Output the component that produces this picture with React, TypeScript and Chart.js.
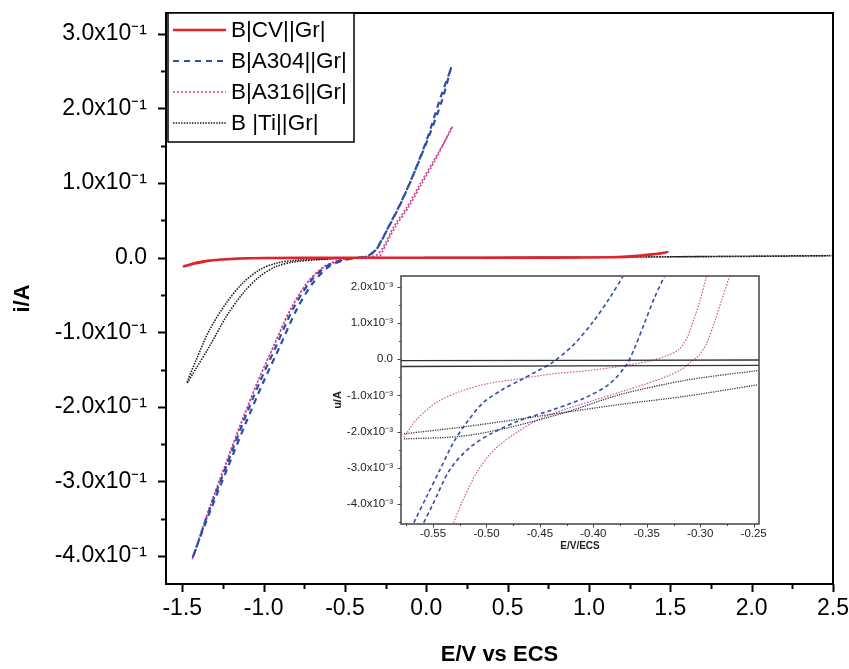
import React, { useEffect, useRef } from "react";
import { Chart, registerables } from "chart.js";
Chart.register(...registerables);

// ---------- main chart data (E in V vs ECS, i in A) ----------
const cvE = [-1.496, -1.414, -1.333, -1.23, -1.1, -0.8, -0.3, 0.3, 0.8, 1.146, 1.3, 1.4, 1.483, 1.4, 1.3, 1.15, 0.8, 0.2, -0.5, -1.0, -1.25, -1.4, -1.49];
const cvI = [-0.012, -0.0075, -0.004, -0.002, -0.0008, -0.0003, 0, 0, 0.0002, 0.0005, 0.0025, 0.0048, 0.0073, 0.0045, 0.002, 0.0006, 0, 0, -0.0002, -0.0006, -0.0025, -0.006, -0.0115];

const a304E = [-0.40, -0.373, -0.35, -0.312, -0.23, -0.148, -0.067, 0.015, 0.097, 0.154, 0.146, 0.088, 0.006, -0.075, -0.156, -0.238, -0.30, -0.345, -0.39, -0.45, -0.516, -0.618, -0.72, -0.822, -0.924, -1.026, -1.128, -1.23, -1.333, -1.436, -1.43, -1.325, -1.218, -1.11, -1.004, -0.90, -0.798, -0.697, -0.598, -0.50, -0.43, -0.40];
const a304I = [0, 0.001, 0.004, 0.010, 0.0416, 0.077, 0.1176, 0.162, 0.211, 0.256, 0.25, 0.215, 0.16, 0.114, 0.074, 0.039, 0.013, 0.004, 0.001, -0.001, -0.003, -0.012, -0.034, -0.070, -0.119, -0.168, -0.222, -0.28, -0.338, -0.403, -0.398, -0.338, -0.28, -0.222, -0.168, -0.119, -0.070, -0.034, -0.012, -0.003, -0.0005, 0];

const a316E = [-0.33, -0.29, -0.281, -0.189, -0.108, -0.026, 0.056, 0.158, 0.152, 0.048, -0.036, -0.118, -0.2, -0.27, -0.31, -0.37, -0.46, -0.53, -0.635, -0.74, -0.842, -0.942, -1.04, -1.14, -1.24, -1.338, -1.44, -1.432, -1.33, -1.23, -1.13, -1.03, -0.93, -0.83, -0.73, -0.63, -0.53, -0.45, -0.38, -0.33];
const a316I = [0.0005, 0.001, 0.0036, 0.0416, 0.068, 0.0997, 0.131, 0.1756, 0.171, 0.131, 0.0997, 0.068, 0.0416, 0.012, 0.003, 0.0005, -0.001, -0.004, -0.014, -0.036, -0.072, -0.12, -0.168, -0.222, -0.28, -0.338, -0.405, -0.40, -0.335, -0.276, -0.218, -0.163, -0.115, -0.068, -0.033, -0.012, -0.003, -0.001, 0, 0.0005];

const tiE = [2.5, 2.0, 1.5, 1.0, 0.5, 0, -0.5, -0.68, -0.82, -0.924, -1.026, -1.128, -1.23, -1.333, -1.414, -1.471, -1.414, -1.333, -1.23, -1.128, -1.026, -0.924, -0.82, -0.6, 0, 1.0, 2.0, 2.48];
const tiI = [0.0027, 0.002, 0.0012, 0.0006, 0.0002, 0, -0.001, -0.003, -0.006, -0.012, -0.0255, -0.048, -0.079, -0.119, -0.148, -0.168, -0.137, -0.097, -0.061, -0.034, -0.0165, -0.0075, -0.004, -0.0015, 0, 0.0005, 0.0018, 0.0025];

const seriesNames = ["B|CV||Gr|", "B|A304||Gr|", "B|A316||Gr|", "B |Ti||Gr|"];

const xTicks = [-1.5, -1.0, -0.5, 0, 0.5, 1.0, 1.5, 2.0, 2.5];
const xTickLabels = ["-1.5", "-1.0", "-0.5", "0.0", "0.5", "1.0", "1.5", "2.0", "2.5"];
const xMinor = [-1.25, -0.75, -0.25, 0.25, 0.75, 1.25, 1.75, 2.25];
const yTicks = [-0.4, -0.3, -0.2, -0.1, 0, 0.1, 0.2, 0.3];
const yTickLabels = ["-4.0x10\u207B\u00B9", "-3.0x10\u207B\u00B9", "-2.0x10\u207B\u00B9", "-1.0x10\u207B\u00B9", "0.0", "1.0x10\u207B\u00B9", "2.0x10\u207B\u00B9", "3.0x10\u207B\u00B9"];
const yMinor = [-0.35, -0.25, -0.15, -0.05, 0.05, 0.15, 0.25];

// ---------- inset data (E in V/ECS, i in 10^-3 A) ----------
const inBlue1E = [-0.568, -0.5556, -0.5432, -0.5308, -0.5184, -0.5028, -0.4842, -0.4687, -0.4532, -0.4392, -0.419, -0.4004, -0.385, -0.3725];
const inBlue1I = [-4.51, -3.77, -3.03, -2.29, -1.74, -1.19, -0.82, -0.585, -0.336, -0.105, 0.384, 1.03, 1.68, 2.28];
const inBlue2E = [-0.5587, -0.5509, -0.5339, -0.5153, -0.4935, -0.4687, -0.4377, -0.4067, -0.3849, -0.3694, -0.3617, -0.3524, -0.3431, -0.3337];
const inBlue2I = [-4.51, -4.05, -3.03, -2.43, -2.02, -1.69, -1.39, -1.05, -0.68, -0.17, 0.29, 0.98, 1.68, 2.28];
const inPink1E = [-0.5773, -0.5649, -0.5463, -0.5246, -0.4997, -0.4687, -0.4377, -0.4067, -0.3756, -0.3477, -0.3322, -0.3198, -0.312, -0.3058, -0.2996, -0.2943];
const inPink1I = [-2.155, -1.647, -1.186, -0.89, -0.678, -0.539, -0.40, -0.318, -0.198, -0.05, 0.089, 0.273, 0.615, 1.12, 1.68, 2.28];
const inPink2E = [-0.5308, -0.5215, -0.509, -0.4935, -0.4718, -0.4501, -0.4253, -0.4004, -0.3756, -0.3508, -0.3291, -0.3167, -0.3089, -0.3012, -0.2934, -0.2856, -0.2794, -0.2726];
const inPink2I = [-4.51, -3.86, -3.12, -2.52, -2.02, -1.65, -1.37, -1.14, -0.91, -0.68, -0.447, -0.262, -0.078, 0.107, 0.477, 1.12, 1.68, 2.28];
const inTi1E = [-0.5773, -0.5246, -0.4811, -0.4253, -0.3756, -0.3136, -0.2459];
const inTi1I = [-2.20, -2.13, -1.90, -1.46, -0.98, -0.58, -0.31];
const inTi2E = [-0.5773, -0.5246, -0.4687, -0.4253, -0.3756, -0.3136, -0.2459];
const inTi2I = [-2.06, -1.88, -1.65, -1.46, -1.25, -1.02, -0.705];
const inFlat1E = [-0.58, -0.245];
const inFlat1I = [-0.04, -0.02];
const inFlat2E = [-0.58, -0.245];
const inFlat2I = [-0.20, -0.17];

const inXTicks = [-0.55, -0.5, -0.45, -0.4, -0.35, -0.3, -0.25];
const inXTickLabels = ["-0.55", "-0.50", "-0.45", "-0.40", "-0.35", "-0.30", "-0.25"];
const inXMinor = [-0.575, -0.525, -0.475, -0.425, -0.375, -0.325, -0.275];
const inYTicks = [-4, -3, -2, -1, 0, 1, 2];
const inYTickLabels = ["-4.0x10\u207B\u00B3", "-3.0x10\u207B\u00B3", "-2.0x10\u207B\u00B3", "-1.0x10\u207B\u00B3", "0.0", "1.0x10\u207B\u00B3", "2.0x10\u207B\u00B3"];
const inYMinor = [-4.5, -3.5, -2.5, -1.5, -0.5, 0.5, 1.5];

const FONT = "'Liberation Sans', Arial, Helvetica, sans-serif";
const RED = "#e3232b";
const BLUE = "#2f4ea6";
const PINK = "#cc3e92";
const BLACK = "#1e1e1e";

const pts = (xs: number[], ys: number[]) => xs.map((x, i) => ({ x, y: ys[i] }));

const noPad = (s: any) => { s.paddingTop = 0; s.paddingBottom = 0; s.paddingLeft = 0; s.paddingRight = 0; };

const frameTicks = {
  id: "frameTicks",
  beforeDraw(chart: any, _a: any, o: any) {
    if (!o.fill) return;
    const { ctx, chartArea: a } = chart;
    ctx.save();
    ctx.fillStyle = "#fff";
    ctx.fillRect(a.left, a.top, a.right - a.left, a.bottom - a.top);
    ctx.restore();
  },
  afterDraw(chart: any, _a: any, o: any) {
    const { ctx, chartArea: a, scales } = chart;
    const x = scales.x, y = scales.y;
    ctx.save();
    ctx.strokeStyle = o.color;
    ctx.lineWidth = o.tickWidth;
    ctx.beginPath();
    const xt = (vals: number[], len: number) => vals.forEach((v) => {
      const p = Math.round(x.getPixelForValue(v)) + 0.5;
      ctx.moveTo(p, a.bottom); ctx.lineTo(p, a.bottom + len);
    });
    const yt = (vals: number[], len: number) => vals.forEach((v) => {
      const p = Math.round(y.getPixelForValue(v)) + 0.5;
      ctx.moveTo(a.left, p); ctx.lineTo(a.left - len, p);
    });
    xt(o.xMajor, o.major); xt(o.xMinor, o.minor);
    yt(o.yMajor, o.major); yt(o.yMinor, o.minor);
    ctx.stroke();
    ctx.lineWidth = o.frameWidth;
    ctx.strokeRect(a.left, a.top, a.right - a.left, a.bottom - a.top);
    ctx.restore();
  },
};

const boxLegend = {
  id: "boxLegend",
  afterDraw(chart: any) {
    const { ctx, chartArea: a } = chart;
    const left = a.left + 2, top = a.top, w = 186, h = 129;
    ctx.save();
    ctx.fillStyle = "#fff";
    ctx.fillRect(left, top, w, h);
    ctx.strokeStyle = "#000";
    ctx.lineWidth = 1.5;
    ctx.strokeRect(left, top, w, h);
    ctx.font = `22.5px ${FONT}`;
    ctx.textBaseline = "middle";
    chart.data.datasets.forEach((ds: any, i: number) => {
      const cy = top + 17 + i * 31;
      ctx.strokeStyle = ds.borderColor;
      ctx.lineWidth = ds.borderWidth;
      ctx.setLineDash(ds.borderDash || []);
      ctx.beginPath();
      ctx.moveTo(left + 5, cy); ctx.lineTo(left + 58, cy);
      ctx.stroke();
      ctx.setLineDash([]);
      ctx.fillStyle = "#000";
      ctx.fillText(ds.label, left + 63, cy + 1);
    });
    ctx.restore();
  },
};

export default function App() {
  const mainRef = useRef<HTMLCanvasElement>(null);
  const insetRef = useRef<HTMLCanvasElement>(null);

  useEffect(() => {
    const mk = (label: string, xs: number[], ys: number[], color: string, width: number, dash: number[]) => ({
      label, data: pts(xs, ys), borderColor: color, backgroundColor: color, borderWidth: width,
      borderDash: dash, showLine: true, pointRadius: 0, fill: false, tension: 0.3,
    });
    const main = new Chart(mainRef.current!, {
      type: "scatter",
      data: {
        datasets: [
          mk(seriesNames[0], cvE, cvI, RED, 2.5, []),
          mk(seriesNames[1], a304E, a304I, BLUE, 2.2, [6, 5]),
          mk(seriesNames[2], a316E, a316I, PINK, 1.6, [2, 2]),
          mk(seriesNames[3], tiE, tiI, BLACK, 1.6, [1.5, 1.2]),
        ] as any,
      },
      options: {
        animation: false,
        responsive: false,
        layout: { padding: { top: 13, right: 16, left: 0, bottom: 0 } },
        plugins: {
          legend: { display: false },
          tooltip: { enabled: false },
          frameTicks: { color: "#000", tickWidth: 2, frameWidth: 2, major: 8, minor: 5, xMajor: xTicks, xMinor, yMajor: yTicks, yMinor, fill: false },
        } as any,
        scales: {
          x: {
            type: "linear", min: -1.6, max: 2.5,
            afterBuildTicks: (s: any) => { s.ticks = xTicks.map((v) => ({ value: v })); },
            afterFit: (s: any) => { s.height = 85; noPad(s); },
            grid: { display: false, drawTicks: true, tickLength: 8 },
            border: { display: false },
            ticks: { callback: (_v: any, i: number) => xTickLabels[i], color: "#000", font: { family: FONT, size: 23 }, padding: 3, maxRotation: 0, autoSkip: false },
            title: { display: true, text: "E/V vs ECS", color: "#000", font: { family: FONT, size: 22, weight: "bold" }, padding: { top: 0, bottom: 1 } },
          },
          y: {
            type: "linear", min: -0.4375, max: 0.328,
            afterBuildTicks: (s: any) => { s.ticks = yTicks.map((v) => ({ value: v })); },
            afterFit: (s: any) => { s.width = 166; noPad(s); },
            grid: { display: false, drawTicks: true, tickLength: 8 },
            border: { display: false },
            ticks: { callback: (_v: any, i: number) => yTickLabels[i], color: "#000", font: { family: FONT, size: 23 }, padding: 11, autoSkip: false },
            title: { display: true, text: "i/A", color: "#000", font: { family: FONT, size: 22, weight: "bold" }, padding: { top: 10, bottom: 0 } },
          },
        },
      } as any,
      plugins: [frameTicks, boxLegend],
    });

    const inset = new Chart(insetRef.current!, {
      type: "scatter",
      data: {
        datasets: [
          mk("CV a", inFlat1E, inFlat1I, "#333", 1.3, []),
          mk("CV b", inFlat2E, inFlat2I, "#333", 1.3, []),
          mk("Ti a", inTi1E, inTi1I, "#333", 1.3, [1.2, 1.2]),
          mk("Ti b", inTi2E, inTi2I, "#333", 1.3, [1.2, 1.2]),
          mk("A304 a", inBlue1E, inBlue1I, BLUE, 1.6, [4, 3]),
          mk("A304 b", inBlue2E, inBlue2I, BLUE, 1.6, [4, 3]),
          mk("A316 a", inPink1E, inPink1I, "#d0559a", 1.2, [1.5, 1.5]),
          mk("A316 b", inPink2E, inPink2I, "#d0559a", 1.2, [1.5, 1.5]),
        ] as any,
      },
      options: {
        animation: false,
        responsive: false,
        layout: { padding: { top: 10, right: 21, left: 0, bottom: 0 } },
        plugins: {
          legend: { display: false },
          tooltip: { enabled: false },
          frameTicks: { color: "#444", tickWidth: 1, frameWidth: 1.5, major: 3.5, minor: 2, xMajor: inXTicks, xMinor: inXMinor, yMajor: inYTicks, yMinor: inYMinor, fill: true },
        } as any,
        scales: {
          x: {
            type: "linear", min: -0.58, max: -0.245,
            afterBuildTicks: (s: any) => { s.ticks = inXTicks.map((v) => ({ value: v })); },
            afterFit: (s: any) => { s.height = 34; noPad(s); },
            grid: { display: false, drawTicks: true, tickLength: 3 },
            border: { display: false },
            ticks: { callback: (_v: any, i: number) => inXTickLabels[i], color: "#222", font: { family: FONT, size: 11.5 }, padding: 0, maxRotation: 0, autoSkip: false },
            title: { display: true, text: "E/V/ECS", color: "#222", font: { family: FONT, size: 10, weight: "bold" }, padding: { top: 0, bottom: 6 } },
          },
          y: {
            type: "linear", min: -4.55, max: 2.3,
            afterBuildTicks: (s: any) => { s.ticks = inYTicks.map((v) => ({ value: v })); },
            afterFit: (s: any) => { s.width = 81; noPad(s); },
            grid: { display: false, drawTicks: true, tickLength: 3 },
            border: { display: false },
            ticks: { callback: (_v: any, i: number) => inYTickLabels[i], color: "#222", font: { family: FONT, size: 11.5 }, padding: 5, autoSkip: false },
            title: { display: true, text: "u/A", color: "#222", font: { family: FONT, size: 11, weight: "bold" }, padding: { top: 11, bottom: 0 } },
          },
        },
      } as any,
      plugins: [frameTicks],
    });

    return () => { main.destroy(); inset.destroy(); };
  }, []);

  return (
    <div style={{ position: "absolute", left: 0, top: 0, width: 849, height: 669, background: "#fff" }}>
      <canvas ref={mainRef} width={849} height={669} style={{ position: "absolute", left: 0, top: 0 }} />
      <canvas ref={insetRef} width={460} height={292} style={{ position: "absolute", left: 320, top: 266 }} />
    </div>
  );
}
